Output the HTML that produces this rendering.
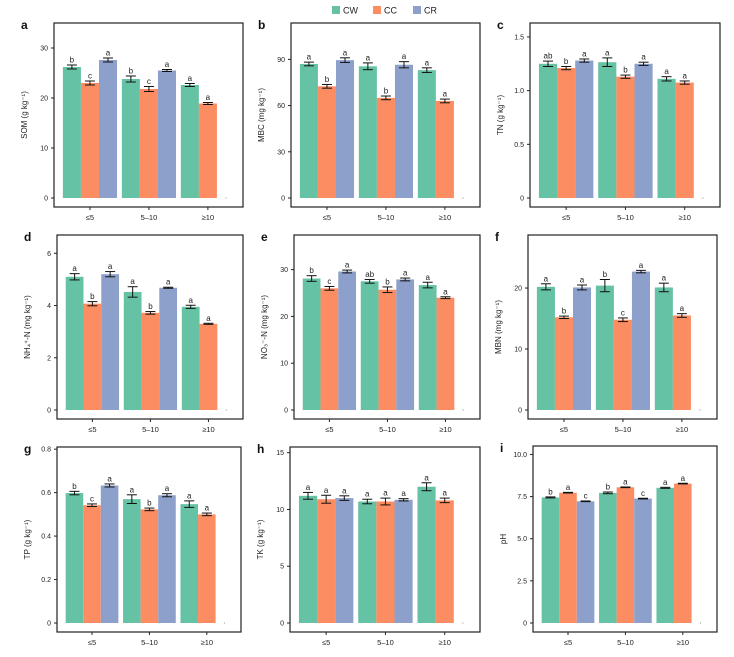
<!DOCTYPE html>
<html><head><meta charset="utf-8"><style>
body{margin:0;background:#fff;}
svg text{font-family:"Liberation Sans",sans-serif;}
</style></head><body>
<svg id="fig" width="734" height="652" viewBox="0 0 734 652" xmlns="http://www.w3.org/2000/svg">
<g>
<rect x="332" y="6" width="8" height="8" fill="#66c2a5"/>
<text x="343" y="13.5" font-size="9" fill="#222">CW</text>
<rect x="373" y="6" width="8" height="8" fill="#fc8d62"/>
<text x="384" y="13.5" font-size="9" fill="#222">CC</text>
<rect x="413" y="6" width="8" height="8" fill="#8da0cb"/>
<text x="424" y="13.5" font-size="9" fill="#222">CR</text>
</g>
</svg>
<script>
const categories = ["≤5","5–10","≥10"];
const seriesNames = ["CW","CC","CR"];
const colors = ["#66c2a5","#fc8d62","#8da0cb"];

const somCW=[26.2,23.8,22.6], somCC=[23.0,21.8,18.9], somCR=[27.6,25.5,null];
const somErr=[[0.4,0.6,0.3],[0.4,0.5,0.2],[0.4,0.2,null]];
const somLet=[["b","b","a"],["c","c","a"],["a","a",null]];

const mbcCW=[87,85.5,83], mbcCC=[72.5,65,63], mbcCR=[89.5,86.5,null];
const mbcErr=[[1.2,2.2,1.5],[1.2,1.2,1.2],[1.5,2,null]];
const mbcLet=[["a","a","a"],["b","b","a"],["a","a",null]];

const tnCW=[1.25,1.265,1.11], tnCC=[1.21,1.13,1.075], tnCR=[1.28,1.25,null];
const tnErr=[[0.025,0.04,0.02],[0.015,0.015,0.015],[0.015,0.015,null]];
const tnLet=[["ab","a","a"],["b","b","a"],["a","a",null]];

const nhCW=[5.1,4.52,3.95], nhCC=[4.07,3.72,3.3], nhCR=[5.2,4.68,null];
const nhErr=[[0.12,0.2,0.06],[0.08,0.05,0.02],[0.1,0.02,null]];
const nhLet=[["a","a","a"],["b","b","a"],["a","a",null]];

const noCW=[28.1,27.5,26.7], noCC=[26.0,25.7,24.0], noCR=[29.6,27.9,null];
const noErr=[[0.6,0.4,0.6],[0.4,0.6,0.2],[0.3,0.3,null]];
const noLet=[["b","ab","a"],["c","b","a"],["a","a",null]];

const mbnCW=[20.2,20.4,20.1], mbnCC=[15.2,14.8,15.5], mbnCR=[20.1,22.7,null];
const mbnErr=[[0.5,1.0,0.7],[0.2,0.3,0.3],[0.4,0.2,null]];
const mbnLet=[["a","b","a"],["b","c","a"],["a","a",null]];

const tpCW=[0.598,0.57,0.547], tpCC=[0.542,0.523,0.50], tpCR=[0.633,0.588,null];
const tpErr=[[0.008,0.02,0.015],[0.006,0.006,0.006],[0.007,0.007,null]];
const tpLet=[["b","a","a"],["c","b","a"],["a","a",null]];

const tkCW=[11.2,10.7,12.0], tkCC=[10.9,10.7,10.8], tkCR=[11.0,10.85,null];
const tkErr=[[0.3,0.2,0.35],[0.35,0.3,0.2],[0.2,0.1,null]];
const tkLet=[["a","a","a"],["a","a","a"],["a","a",null]];

const phCW=[7.45,7.72,8.02], phCC=[7.73,8.05,8.27], phCR=[7.22,7.38,null];
const phErr=[[0.03,0.05,0.03],[0.02,0.02,0.02],[0.02,0.02,null]];
const phLet=[["b","b","a"],["a","a","a"],["c","c",null]];

const panels = [
 {id:"a",title:"SOM (g kg⁻¹)",box:[54,23,243,207],ymax:35,ticks:[0,10,20,30],labels:["0","10","20","30"],vals:[somCW,somCC,somCR],err:somErr,lets:somLet},
 {id:"b",title:"MBC (mg kg⁻¹)",box:[291,23,480,207],ymax:113.6,ticks:[0,30,60,90],labels:["0","30","60","90"],vals:[mbcCW,mbcCC,mbcCR],err:mbcErr,lets:mbcLet},
 {id:"c",title:"TN (g kg⁻¹)",box:[530,23,720,207],ymax:1.63,ticks:[0,0.5,1.0,1.5],labels:["0","0.5","1.0","1.5"],vals:[tnCW,tnCC,tnCR],err:tnErr,lets:tnLet},
 {id:"d",title:"NH₄⁺-N (mg kg⁻¹)",box:[57,235,243,419],ymax:6.7,ticks:[0,2,4,6],labels:["0","2","4","6"],vals:[nhCW,nhCC,nhCR],err:nhErr,lets:nhLet},
 {id:"e",title:"NO₃⁻-N (mg kg⁻¹)",box:[294,235,480,419],ymax:37.4,ticks:[0,10,20,30],labels:["0","10","20","30"],vals:[noCW,noCC,noCR],err:noErr,lets:noLet},
 {id:"f",title:"MBN (mg kg⁻¹)",box:[528,235,717,419],ymax:28.7,ticks:[0,10,20],labels:["0","10","20"],vals:[mbnCW,mbnCC,mbnCR],err:mbnErr,lets:mbnLet},
 {id:"g",title:"TP (g kg⁻¹)",box:[57,447,241,632],ymax:0.81,ticks:[0,0.2,0.4,0.6,0.8],labels:["0","0.2","0.4","0.6","0.8"],vals:[tpCW,tpCC,tpCR],err:tpErr,lets:tpLet},
 {id:"h",title:"TK (g kg⁻¹)",box:[290,447,480,632],ymax:15.5,ticks:[0,5,10,15],labels:["0","5","10","15"],vals:[tkCW,tkCC,tkCR],err:tkErr,lets:tkLet},
 {id:"i",title:"pH",box:[533,446,717,632],ymax:10.5,ticks:[0,2.5,5,7.5,10],labels:["0","2.5","5.0","7.5","10.0"],vals:[phCW,phCC,phCR],err:phErr,lets:phLet}
];

const NS="http://www.w3.org/2000/svg";
const svg=document.getElementById("fig");
function mk(tag,attrs,parent){const e=document.createElementNS(NS,tag);for(const k in attrs)e.setAttribute(k,attrs[k]);parent.appendChild(e);return e;}

panels.forEach(p=>{
 const [L,T,R,B]=p.box; const w=R-L;
 const y0=B-9;
 const yS=v=>y0-v/p.ymax*(y0-T);
 const barW=w*0.0955, stride=w*0.312, start=L+w*0.047;
 const xS=(g,s)=>start+g*stride+s*barW;
 const g=mk("g",{},svg);
 
 
 // bars
 p.vals.forEach((arr,s)=>{
  arr.forEach((v,gi)=>{
   const x=xS(gi,s);
   if(v===null){
    const d=mk("rect",{x:x+barW/2-0.5,y:y0-0.5,width:1,height:1,fill:"#888"},g);
    
    
    return;
   }
   const r=mk("rect",{x:x,y:yS(v),width:barW,height:y0-yS(v),fill:colors[s]},g);
   
   
   const e=p.err[s][gi]; const cx=x+barW/2;
   const eg=mk("g",{stroke:"#111","stroke-width":1,fill:"none"},g);
   
   
   mk("line",{x1:cx,x2:cx,y1:yS(v+e),y2:yS(v-e)},eg);
   mk("line",{x1:cx-5,x2:cx+5,y1:yS(v+e),y2:yS(v+e)},eg);
   mk("line",{x1:cx-5,x2:cx+5,y1:yS(v-e),y2:yS(v-e)},eg);
   const t=mk("text",{x:cx,y:yS(v+e)-2.5,"font-size":8,"text-anchor":"middle",fill:"#222"},g);
   t.textContent=p.lets[s][gi];
   
   
  });
 });
 // frame
 const fr=mk("rect",{x:L,y:T,width:w,height:B-T,fill:"none",stroke:"#222","stroke-width":1.2},g);
 
 
 // y ticks
 p.ticks.forEach((tv,i)=>{
  const y=yS(tv);
  mk("line",{x1:L-3,x2:L,y1:y,y2:y,stroke:"#222","stroke-width":1},g);
  const t=mk("text",{x:L-6,y:y+2.5,"font-size":7,"text-anchor":"end",fill:"#222"},g);
  t.textContent=p.labels[i];
  
  
 });
 // x ticks
 categories.forEach((c,gi)=>{
  const x=xS(gi,1)+barW/2;
  mk("line",{x1:x,x2:x,y1:B,y2:B+3,stroke:"#222","stroke-width":1},g);
  const t=mk("text",{x:x,y:B+13,"font-size":7.5,"text-anchor":"middle",fill:"#222"},g);
  t.textContent=c;
  
  
 });
 // y title
 const yt=mk("text",{x:0,y:0,"font-size":8,"text-anchor":"middle",fill:"#222",transform:`translate(${L-27},${(T+B)/2}) rotate(-90)`},g);
 yt.textContent=p.title;
 
 
 // panel letter
 const pl=mk("text",{x:L-33,y:T+6,"font-size":12,"font-weight":"bold",fill:"#111"},g);
 pl.textContent=p.id;
 
 
});
</script>
</body></html>
